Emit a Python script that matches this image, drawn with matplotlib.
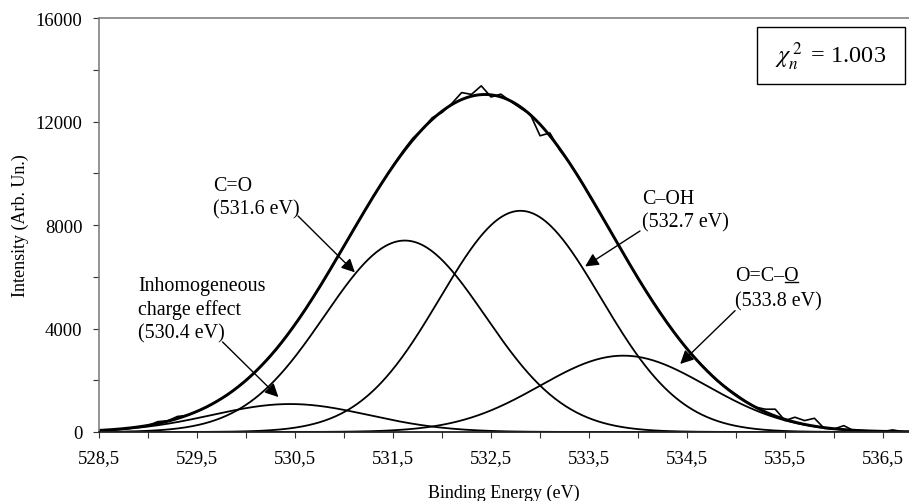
import numpy as np
import matplotlib
matplotlib.use("Agg")
import matplotlib.pyplot as plt
from matplotlib.patches import Rectangle

plt.rcParams["font.family"] = ["Liberation Serif", "DejaVu Serif"]
plt.rcParams["mathtext.fontset"] = "stix"

# fitted components (centre eV, height, gaussian sigma eV)
centers = [530.45, 531.62, 532.80, 533.85]
heights = [1080, 7400, 8550, 2950]
sigmas = [0.80, 0.82, 0.82, 0.85]

# measured spectrum, 0.1 eV steps
be = np.round(np.arange(528.5, 536.71, 0.1), 1)
counts = [
    40, 70, 100, 140, 190, 250, 400, 430, 600, 640,
    800, 960, 1190, 1400, 1700, 2000, 2350, 2740, 3150, 3650,
    4170, 4700, 5300, 5900, 6560, 7180, 7860, 8470, 9130, 9700,
    10300, 10850, 11350, 11700, 12150, 12350, 12700, 13120, 13050, 13380,
    12950, 13060, 12780, 12520, 12280, 11450, 11560, 10900, 10400, 9830,
    9150, 8520, 7900, 7230, 6600, 5920, 5340, 4760, 4220, 3680,
    3200, 2780, 2400, 2000, 1720, 1450, 1180, 960, 880, 880,
    440, 570, 440, 530, 140, 115, 245, 50, 20, 10,
    20, 80, 10,
]

xticks = [528.5, 529.5, 530.5, 531.5, 532.5, 533.5, 534.5, 535.5, 536.5]
xminor = [529.0, 530.0, 531.0, 532.0, 533.0, 534.0, 535.0, 536.0]
yticks = [0, 4000, 8000, 12000, 16000]
yminor = [2000, 6000, 10000, 14000]

fig = plt.figure(figsize=(9.09, 5.02), dpi=100)
ax = fig.add_axes([0.109, 0.1375, 0.891, 0.8245])

xx = np.linspace(528.5, 536.765, 600)
env = np.zeros_like(xx)
for c, h, s in zip(centers, heights, sigmas):
    comp = h * np.exp(-(xx - c) ** 2 / (2 * s * s))
    env += comp
    ax.plot(xx, comp, color="k", lw=1.3)
ax.plot(xx, env, color="k", lw=2.1)
ax.plot(be, counts, color="k", lw=1.2)

ax.set_xlim(528.5, 536.765)
ax.set_ylim(0, 16000)
ax.set_xticks(xticks)
ax.set_xticklabels([f"{v:.1f}".replace(".", ",") for v in xticks])
ax.set_xticks(xminor, minor=True)
ax.set_yticks(yticks)
ax.set_yticks(yminor, minor=True)
ax.tick_params(which="both", direction="out", length=4, width=0.8, color="#333333",
               labelsize=13.5, pad=8)
ax.spines["right"].set_visible(False)
for side in ("top", "left"):
    ax.spines[side].set_color("#777777")
    ax.spines[side].set_linestyle((0, (2, 1)))
    ax.spines[side].set_linewidth(1.1)
ax.spines["bottom"].set_color("#222222")
ax.spines["bottom"].set_linewidth(1.3)
ax.set_xlabel("Binding Energy (eV)", fontsize=13, labelpad=13)
ax.set_ylabel("Intensity (Arb. Un.)", fontsize=13, labelpad=5)

arrow = dict(arrowstyle="-|>", color="k", lw=1.0, mutation_scale=20, shrinkA=0, shrinkB=0)
ax.annotate("", xy=(530.33, 1350), xytext=(529.76, 3480), arrowprops=arrow)
ax.annotate("", xy=(531.11, 6170), xytext=(530.53, 8350), arrowprops=arrow)
ax.annotate("", xy=(533.46, 6400), xytext=(534.02, 7770), arrowprops=arrow)
ax.annotate("", xy=(534.43, 2630), xytext=(534.99, 4690), arrowprops=arrow)

fs = 14.4
ax.text(528.90, 6030, "Inhomogeneous\ncharge effect\n(530.4 eV)", fontsize=fs, va="top", linespacing=1.27)
ax.text(529.66, 9900, "C=O\n(531.6 eV)", fontsize=fs, va="top", linespacing=1.3)
ax.text(534.04, 9380, "C–OH\n(532.7 eV)", fontsize=fs, va="top", linespacing=1.3)
t1 = ax.text(534.99, 6420, "O=C–O", fontsize=fs, va="top")
ax.text(534.99, 5450, "(533.8 eV)", fontsize=fs, va="top")

# underline the last O of O=C–O
fig.canvas.draw()
r = fig.canvas.get_renderer()
bb = t1.get_window_extent(r)
pre = ax.text(534.99, 6420, "O=C–", fontsize=fs, va="top", alpha=0)
bp = pre.get_window_extent(r)
inv = ax.transData.inverted()
(x0, y0), (x1, _) = inv.transform([(bp.x1 + 1, bb.y0 + 3), (bb.x1 - 1, bb.y0 + 3)])
ax.plot([x0, x1], [y0, y0], color="k", lw=1.0)

ax.add_patch(Rectangle((0.812, 0.8406), 0.1827, 0.1374, transform=ax.transAxes,
                       fill=False, ec="k", lw=1.0, clip_on=False))
ax.text(0.9035, 0.909, r"$\chi_n^{\,2}\,$ = 1.003", transform=ax.transAxes, fontsize=17.5,
        ha="center", va="center")

fig.savefig("out.png")
